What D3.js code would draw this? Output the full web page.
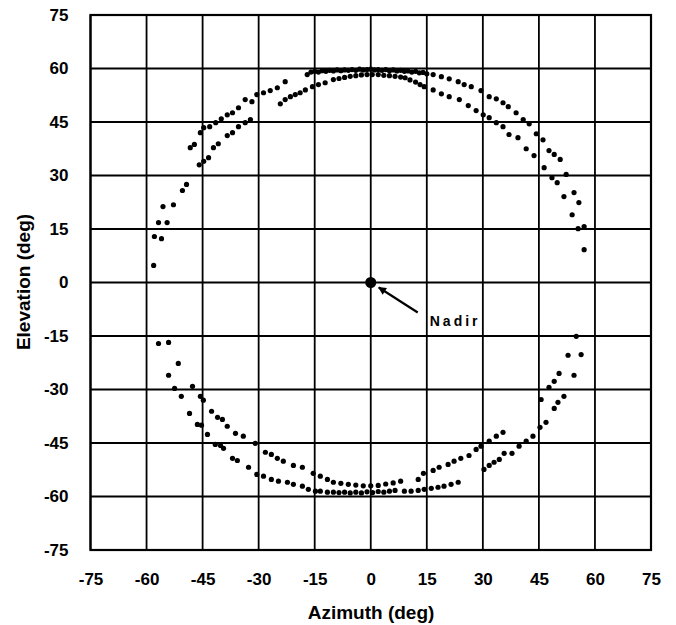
<!DOCTYPE html>
<html><head><meta charset="utf-8">
<script src="https://cdn.jsdelivr.net/npm/d3@7"></script>
<style>html,body{margin:0;padding:0;background:#fff;}svg{display:block;}</style>
</head><body>
<script>
const tickValues = [-75,-60,-45,-30,-15,0,15,30,45,60,75];
const xTitle = "Azimuth (deg)";
const yTitle = "Elevation (deg)";
const nadirLabel = "Nadir";
const nadirPoint = [0, 0];

const upperOuter = [[-58.1,4.8],[-57.9,12.9],[-56.8,16.8],[-55.6,21.3],[-52.8,21.8],[-50.4,25.8],[-49.3,27.5],
[-48.3,37.8],[-47.2,38.7],[-45.6,42],[-44.7,43.4],[-43.1,43.7],[-41.5,44.8],[-40,45.9],[-38.4,47],[-37,47.6],[-35.4,49],[-33.6,51.3],[-31.8,50.7],[-30.5,52.7],[-28.7,53.2],[-26.9,53.8],[-25,54.6],[-22.9,56.3],
[-17,58.3],[-16,59],[-15,59.2],[-14,59],[-13,59.4],[-12,59.2],[-11,59.5],[-10,59.3],[-9,59.6],[-8,59.4],[-7,59.6],[-6,59.5],[-5,59.7],[-4,59.5],[-3,59.8],[-2,59.6],[-1,59.7],[0,59.8],[1,59.6],[2,59.7],[3,59.5],[4,59.7],[5,59.4],[6,59.6],[7,59.3],[8,59.5],[9,59.2],[10,59.3],[11,59],[12,59.2],[13,58.8],[14,58.9],[15,58.5],
[16.7,58.3],[18.9,57.7],[21,57.1],[23.4,56.3],[25,55.5],[26.9,54.9],[29.5,53.8],[31.7,52.1],[33.6,51.5],[35.4,50.4],[36.8,49.3],[38.9,47.6],[40.8,45.7],[42.4,44.5],[44.3,41.7],[46.1,40],[47.7,37],[49.1,35.9],[50.7,34.5],[52.3,30.3],[54.4,25.2],[55.7,22.4],[57.1,15.7],[57.1,9.2]];

const upperInner = [[-56,12.3],[-54.5,16.8],
[-45.9,33],[-44.7,34],[-43.4,35],[-42.1,37.8],[-40.8,38.9],[-38.4,41.2],[-37,42],[-35.4,43.7],[-33.6,44.8],[-32.2,45.7],
[-24.2,50.1],[-22.9,51.3],[-21.5,52.1],[-20.2,52.7],[-18.9,53.2],[-17.5,54],[-15.6,54.9],[-14,55.5],[-12.2,56],[-10,56.9],[-8.5,57.2],[-7,57.5],[-5.5,57.8],[-4,58],[-2.5,58.2],[-1,58.3],[0.4,58.3],[2,58.3],[3.5,58.1],[5,58],[6.5,57.8],[8,57.6],[9.2,57.4],[10.5,56.8],[12,56.2],[13.2,55.5],
[14.3,54.9],[16.7,54],[18.9,52.9],[21,52.1],[23.7,51.3],[26.1,49.6],[28.2,48.2],[30.1,47],[31.7,46.2],[33.6,44.8],[35.4,43.7],[37,41.5],[39.4,40.6],[41.6,37.5],[43.7,35.6],[46.4,32.2],[48.5,29.4],[49.9,28],[51.7,24.1],[53.9,19],[55.5,15.1]];

const lowerOuter = [[-56.8,-17.1],[-54.1,-16.8],[-51.5,-22.7],[-47.7,-29.1],[-45.6,-31.9],[-44.8,-33],[-42.6,-36.1],[-41,-37.8],[-39.7,-38.4],[-38.4,-40.3],[-36.2,-42.3],[-34.1,-43.1],[-30.9,-45.1],[-28.2,-47.6],[-26.6,-48.2],[-25,-49.3],[-23.4,-50.1],[-20.7,-51.3],[-18.3,-51.8],[-15.4,-53.5],[-13.5,-54.3],[-11.6,-55.2],[-10,-56],[-8,-56.3],[-6,-56.6],[-4,-56.8],[-2,-57],[0,-57],[2,-56.9],[4,-56.5],[6,-56.2],[8,-55.7],
[12.7,-55.2],[14.1,-53.5],[16.7,-52.7],[18.3,-51.8],[20.7,-51],[22.3,-50.1],[24.1,-49.3],[26.3,-48.5],[28.2,-46.8],[29.5,-45.9],[31.7,-44.5],[33.6,-43.1],[35.4,-42],
[55,-15.1],[52.8,-20.4],[56.3,-20.2],[50.4,-25.5],[54.4,-26],[49.1,-27.7],[47.7,-29.4],[51.7,-31.9],[50.1,-33.6],[45.6,-32.8],[49.1,-35.3],[46.9,-39.2],[45.3,-40.6]];

const lowerInner = [[-54.1,-26],[-52.5,-29.7],[-50.7,-31.9],[-48.5,-36.7],[-46.4,-39.8],[-45.3,-40],[-43.7,-42.6],[-41.6,-45.4],[-40.2,-45.7],[-39.4,-46.5],[-37,-49.3],[-35.7,-49.9],[-32.7,-51.8],[-30.5,-53.8],[-28.7,-54.3],[-26.6,-55.2],[-24.7,-55.7],[-22.3,-56],[-20.7,-56.6],[-18.3,-57.1],[-16.7,-58],[-14.8,-58.5],[-13.5,-58.5],[-11.6,-58.8],[-10,-58.8],[-8.5,-58.9],[-7,-58.8],[-5.5,-59],[-4,-58.8],[-2.5,-59],[-1,-58.7],[0.5,-58.9],[2,-58.6],[3.5,-58.8],[5,-58.5],[6.5,-58.3],
[9,-58.5],[10.8,-58.5],[12.7,-58.3],[14.3,-58],[16.2,-57.7],[18,-57.4],[19.6,-57.1],[21.5,-56.6],[23.4,-56],
[30.3,-52.4],[31.7,-51.3],[33,-50.4],[34.4,-49.6],[35.7,-47.9],[37.8,-47.9],[39.7,-45.9],[41.6,-44.5],[43.4,-43.1]];

const W = 676, H = 625;
const m = {left: 90.5, right: 651, top: 15, bottom: 550};
const svg = d3.select("body").append("svg").attr("width", W).attr("height", H);
const x = d3.scaleLinear().domain([-75, 75]).range([m.left, m.right]);
const y = d3.scaleLinear().domain([-75, 75]).range([m.bottom, m.top]);
const font = "'Liberation Sans', Arial, sans-serif";
const fmt = d => String(d);

// grid
const g = svg.append("g");
g.selectAll("line.v").data(tickValues).enter().append("line")
  .attr("x1", d => x(d)).attr("x2", d => x(d)).attr("y1", m.top).attr("y2", m.bottom)
  .attr("stroke", "#000").attr("stroke-width", 1.8);
g.selectAll("line.h").data(tickValues).enter().append("line")
  .attr("y1", d => y(d)).attr("y2", d => y(d)).attr("x1", m.left).attr("x2", m.right)
  .attr("stroke", "#000").attr("stroke-width", 1.8);
g.append("rect").attr("x", m.left).attr("y", m.top).attr("width", m.right - m.left).attr("height", m.bottom - m.top)
  .attr("fill", "none").attr("stroke", "#000").attr("stroke-width", 2.2);

// axes (labels only)
const xAxis = d3.axisBottom(x).tickValues(tickValues).tickFormat(fmt).tickSize(0).tickPadding(0);
const ax = svg.append("g").attr("transform", `translate(0,${m.bottom + 23})`).call(xAxis);
ax.select(".domain").remove();
ax.selectAll("text").attr("font-family", font).attr("font-weight", "bold").attr("font-size", 17).attr("fill", "#000").attr("dy", "0.71em");
const yAxis = d3.axisLeft(y).tickValues(tickValues).tickFormat(fmt).tickSize(0).tickPadding(0);
const ay = svg.append("g").attr("transform", `translate(${m.left - 22},0)`).call(yAxis);
ay.select(".domain").remove();
ay.selectAll("text").attr("font-family", font).attr("font-weight", "bold").attr("font-size", 17).attr("fill", "#000");

// titles
svg.append("text").attr("x", 371).attr("y", 619).attr("text-anchor", "middle")
  .attr("font-family", font).attr("font-weight", "bold").attr("font-size", 19).text(xTitle);
svg.append("text").attr("transform", `translate(30,${282}) rotate(-90)`).attr("text-anchor", "middle")
  .attr("font-family", font).attr("font-weight", "bold").attr("font-size", 19).text(yTitle);

// points
const all = [upperOuter, upperInner, lowerOuter, lowerInner];
all.forEach(series => {
  svg.append("g").selectAll("circle").data(series).enter().append("circle")
    .attr("cx", d => x(d[0])).attr("cy", d => y(d[1])).attr("r", 2.6).attr("fill", "#000");
});

// nadir
svg.append("circle").attr("cx", x(nadirPoint[0])).attr("cy", y(nadirPoint[1])).attr("r", 5.5).attr("fill", "#000");
svg.append("defs").append("marker").attr("id", "ah").attr("viewBox", "0 0 10 10").attr("refX", 9).attr("refY", 5)
  .attr("markerWidth", 10).attr("markerHeight", 8).attr("markerUnits", "userSpaceOnUse").attr("orient", "auto")
  .append("path").attr("d", "M0,0 L10,5 L0,10 Z").attr("fill", "#000");
svg.append("line").attr("x1", x(nadirPoint[0]) + 47).attr("y1", y(nadirPoint[1]) + 30)
  .attr("x2", x(nadirPoint[0]) + 8).attr("y2", y(nadirPoint[1]) + 5)
  .attr("stroke", "#000").attr("stroke-width", 2.2).attr("marker-end", "url(#ah)");
svg.append("text").attr("x", x(nadirPoint[0]) + 59).attr("y", y(nadirPoint[1]) + 43)
  .attr("font-family", font).attr("font-weight", "bold").attr("font-size", 14).attr("letter-spacing", 3).text(nadirLabel);
</script>
</body></html>
